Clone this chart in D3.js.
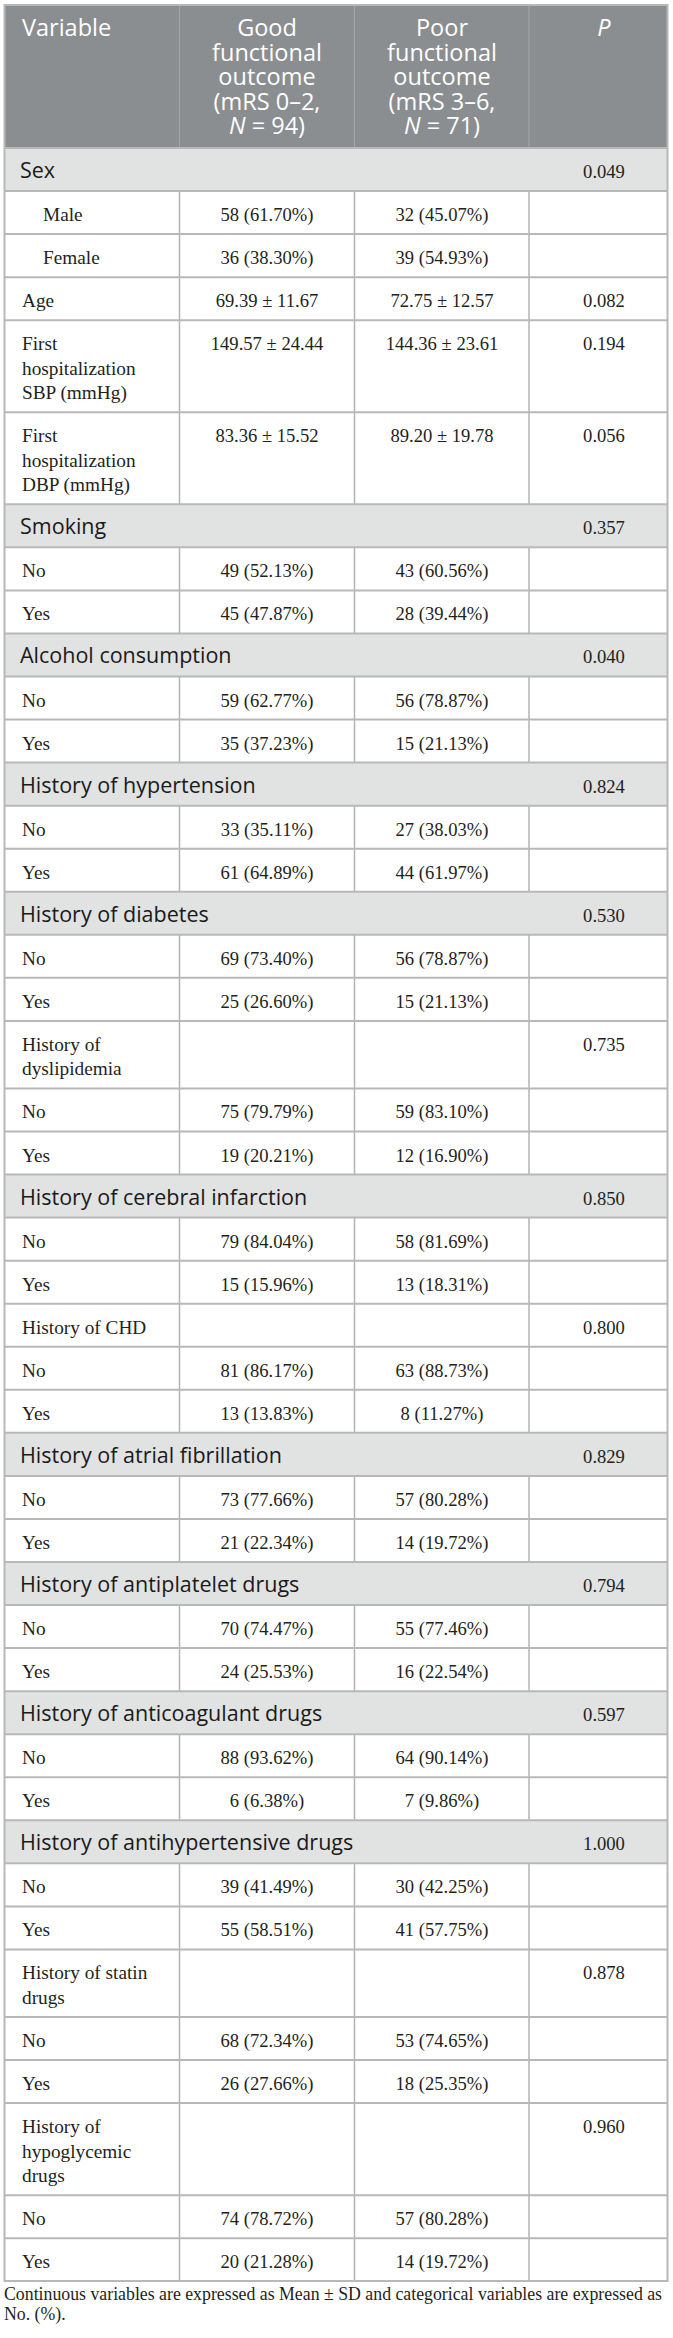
<!DOCTYPE html>
<html>
<head>
<meta charset="utf-8">
<script src="https://cdn.jsdelivr.net/npm/d3@7"></script>
<style>
html,body{margin:0;padding:0;background:#fff;}
svg{display:block;}
</style>
</head>
<body>
<svg id="chart"></svg>
<script>
// ---------- data ----------
const columns = ["Variable", "Good functional outcome", "Poor functional outcome", "P"];
const headerLines = [
  ["Variable"],
  ["Good", "functional", "outcome", "(mRS 0–2,", "N = 94)"],
  ["Poor", "functional", "outcome", "(mRS 3–6,", "N = 71)"],
  ["P"]
];
const rowLabels = [
  "Sex", "Male", "Female", "Age",
  "First\nhospitalization\nSBP (mmHg)",
  "First\nhospitalization\nDBP (mmHg)",
  "Smoking", "No", "Yes",
  "Alcohol consumption", "No", "Yes",
  "History of hypertension", "No", "Yes",
  "History of diabetes", "No", "Yes",
  "History of\ndyslipidemia", "No", "Yes",
  "History of cerebral infarction", "No", "Yes",
  "History of CHD", "No", "Yes",
  "History of atrial fibrillation", "No", "Yes",
  "History of antiplatelet drugs", "No", "Yes",
  "History of anticoagulant drugs", "No", "Yes",
  "History of antihypertensive drugs", "No", "Yes",
  "History of statin\ndrugs", "No", "Yes",
  "History of\nhypoglycemic\ndrugs", "No", "Yes"
];
const rowKinds = [
  "group", "sub", "sub", "data", "data", "data",
  "group", "data", "data",
  "group", "data", "data",
  "group", "data", "data",
  "group", "data", "data",
  "data", "data", "data",
  "group", "data", "data",
  "data", "data", "data",
  "group", "data", "data",
  "group", "data", "data",
  "group", "data", "data",
  "group", "data", "data",
  "data", "data", "data",
  "data", "data", "data"
];
const goodValues = [
  "", "58 (61.70%)", "36 (38.30%)", "69.39 ± 11.67", "149.57 ± 24.44", "83.36 ± 15.52",
  "", "49 (52.13%)", "45 (47.87%)",
  "", "59 (62.77%)", "35 (37.23%)",
  "", "33 (35.11%)", "61 (64.89%)",
  "", "69 (73.40%)", "25 (26.60%)",
  "", "75 (79.79%)", "19 (20.21%)",
  "", "79 (84.04%)", "15 (15.96%)",
  "", "81 (86.17%)", "13 (13.83%)",
  "", "73 (77.66%)", "21 (22.34%)",
  "", "70 (74.47%)", "24 (25.53%)",
  "", "88 (93.62%)", "6 (6.38%)",
  "", "39 (41.49%)", "55 (58.51%)",
  "", "68 (72.34%)", "26 (27.66%)",
  "", "74 (78.72%)", "20 (21.28%)"
];
const poorValues = [
  "", "32 (45.07%)", "39 (54.93%)", "72.75 ± 12.57", "144.36 ± 23.61", "89.20 ± 19.78",
  "", "43 (60.56%)", "28 (39.44%)",
  "", "56 (78.87%)", "15 (21.13%)",
  "", "27 (38.03%)", "44 (61.97%)",
  "", "56 (78.87%)", "15 (21.13%)",
  "", "59 (83.10%)", "12 (16.90%)",
  "", "58 (81.69%)", "13 (18.31%)",
  "", "63 (88.73%)", "8 (11.27%)",
  "", "57 (80.28%)", "14 (19.72%)",
  "", "55 (77.46%)", "16 (22.54%)",
  "", "64 (90.14%)", "7 (9.86%)",
  "", "30 (42.25%)", "41 (57.75%)",
  "", "53 (74.65%)", "18 (25.35%)",
  "", "57 (80.28%)", "14 (19.72%)"
];
const pValues = [
  "0.049", "", "", "0.082", "0.194", "0.056",
  "0.357", "", "",
  "0.040", "", "",
  "0.824", "", "",
  "0.530", "", "",
  "0.735", "", "",
  "0.850", "", "",
  "0.800", "", "",
  "0.829", "", "",
  "0.794", "", "",
  "0.597", "", "",
  "1.000", "", "",
  "0.878", "", "",
  "0.960", "", ""
];
const footnoteLines = [
  "Continuous variables are expressed as Mean ± SD and categorical variables are expressed as",
  "No. (%)."
];

// ---------- layout ----------
const W = 673, H = 2338;
const SANS = "'Open Sans', 'Noto Sans', sans-serif";
const SERIF = "'Liberation Serif', 'DejaVu Serif', serif";
const TABLE_TOP = 5, HEADER_BOTTOM = 148, TABLE_BOTTOM = 2281;
const ROW_H = 43.05, LINE = 24.5, BASE = 30;
const edges = [4.5, 179.5, 354.5, 529, 667.5];
const headerSize = 23.5, groupSize = 21.5, labelSize = 19.3, valueSize = 18.6, noteSize = 17.8;

const svg = d3.select("#chart").attr("width", W).attr("height", H).attr("viewBox", `0 0 ${W} ${H}`);
svg.append("rect").attr("width", W).attr("height", H).attr("fill", "#ffffff");

// column scale (cell centres)
const colCenter = d3.scaleOrdinal().domain(columns).range([92, 267, 442, 604]);

const n = rowLabels.length;
const labelLines = rowLabels.map(s => s.split("\n"));
const heights = labelLines.map(ls => ROW_H + (ls.length - 1) * LINE);
const cum = d3.cumsum(heights);
const rowTop = d3.scaleOrdinal().domain(d3.range(n)).range(d3.range(n).map(i => HEADER_BOTTOM + (i ? cum[i - 1] : 0)));
const rows = d3.range(n).map(i => ({
  i, kind: rowKinds[i], lines: labelLines[i], good: goodValues[i], poor: poorValues[i], p: pValues[i],
  top: rowTop(i), h: heights[i]
}));

// backgrounds
svg.append("rect").attr("x", edges[0]).attr("y", TABLE_TOP)
  .attr("width", edges[4] - edges[0]).attr("height", HEADER_BOTTOM - TABLE_TOP).attr("fill", "#8b8e90");
svg.append("g").selectAll("rect").data(rows.filter(r => r.kind === "group")).join("rect")
  .attr("x", edges[0]).attr("y", d => d.top).attr("width", edges[4] - edges[0]).attr("height", d => d.h)
  .attr("fill", "#e1e2e2");

// header column separators
svg.append("g").selectAll("line").data(edges.slice(1, 4)).join("line")
  .attr("x1", d => d).attr("x2", d => d).attr("y1", TABLE_TOP).attr("y2", HEADER_BOTTOM)
  .attr("stroke", "#a4a7a9").attr("stroke-width", 1);

// vertical lines in non-group rows
const vl = [];
rows.filter(r => r.kind !== "group").forEach(r => edges.slice(1, 4).forEach(x => vl.push({ x, y1: r.top, y2: r.top + r.h })));
svg.append("g").selectAll("line").data(vl).join("line")
  .attr("x1", d => d.x).attr("x2", d => d.x).attr("y1", d => d.y1).attr("y2", d => d.y2)
  .attr("stroke", "#b3b3b3").attr("stroke-width", 1.5);

// horizontal row lines
svg.append("g").selectAll("line").data(rows).join("line")
  .attr("x1", edges[0]).attr("x2", edges[4]).attr("y1", d => d.top).attr("y2", d => d.top)
  .attr("stroke", "#b8b8b8").attr("stroke-width", 2);

// outer border
svg.append("rect").attr("x", edges[0]).attr("y", TABLE_TOP)
  .attr("width", edges[4] - edges[0]).attr("height", TABLE_BOTTOM - TABLE_TOP)
  .attr("fill", "none").attr("stroke", "#b8b8b8").attr("stroke-width", 2);

// header text (one text element per column, lines as tspans)
const hdr = svg.append("g").attr("font-family", SANS).attr("font-size", headerSize).attr("fill", "#ffffff");
columns.forEach((c, ci) => {
  const x = ci === 0 ? 22 : colCenter(c);
  const t = hdr.append("text").attr("text-anchor", ci === 0 ? "start" : "middle");
  headerLines[ci].forEach((line, li) => {
    const y = TABLE_TOP + 31 + li * 24.6;
    if (ci === 3) {
      t.append("tspan").attr("x", x).attr("y", y).attr("font-style", "italic").text(line);
    } else if (line.startsWith("N ")) {
      t.append("tspan").attr("x", x).attr("y", y).attr("font-style", "italic").text("N");
      t.append("tspan").text(line.slice(1));
    } else {
      t.append("tspan").attr("x", x).attr("y", y).text(line);
    }
  });
});

// row labels
const body = svg.append("g");
rows.forEach(r => {
  if (r.kind === "group") {
    body.append("text").attr("x", 20).attr("y", r.top + BASE)
      .attr("font-family", SANS).attr("font-size", groupSize).attr("fill", "#1a1a1a").text(r.lines[0]);
  } else {
    const lx = r.kind === "sub" ? 43 : 22;
    const t = body.append("text").attr("x", lx)
      .attr("font-family", SERIF).attr("font-size", labelSize).attr("fill", "#231f20");
    r.lines.forEach((ln, li) => t.append("tspan").attr("x", lx)
      .attr("y", r.top + BASE + li * LINE).text(ln));
  }
});

// value cells
const cells = [];
rows.forEach(r => {
  [[columns[1], r.good], [columns[2], r.poor], [columns[3], r.p]].forEach(([c, v]) => {
    if (v) cells.push({ c, v, y: r.top + BASE });
  });
});
svg.append("g").attr("font-family", SERIF).attr("font-size", valueSize).attr("fill", "#231f20")
  .selectAll("text").data(cells).join("text")
  .attr("x", d => colCenter(d.c)).attr("y", d => d.y).attr("text-anchor", "middle").text(d => d.v);

// footnote
svg.append("g").attr("font-family", SERIF).attr("font-size", noteSize).attr("fill", "#231f20")
  .selectAll("text").data(footnoteLines).join("text")
  .attr("x", 4).attr("y", (d, i) => 2300 + i * 20).text(d => d);
</script>
</body>
</html>
